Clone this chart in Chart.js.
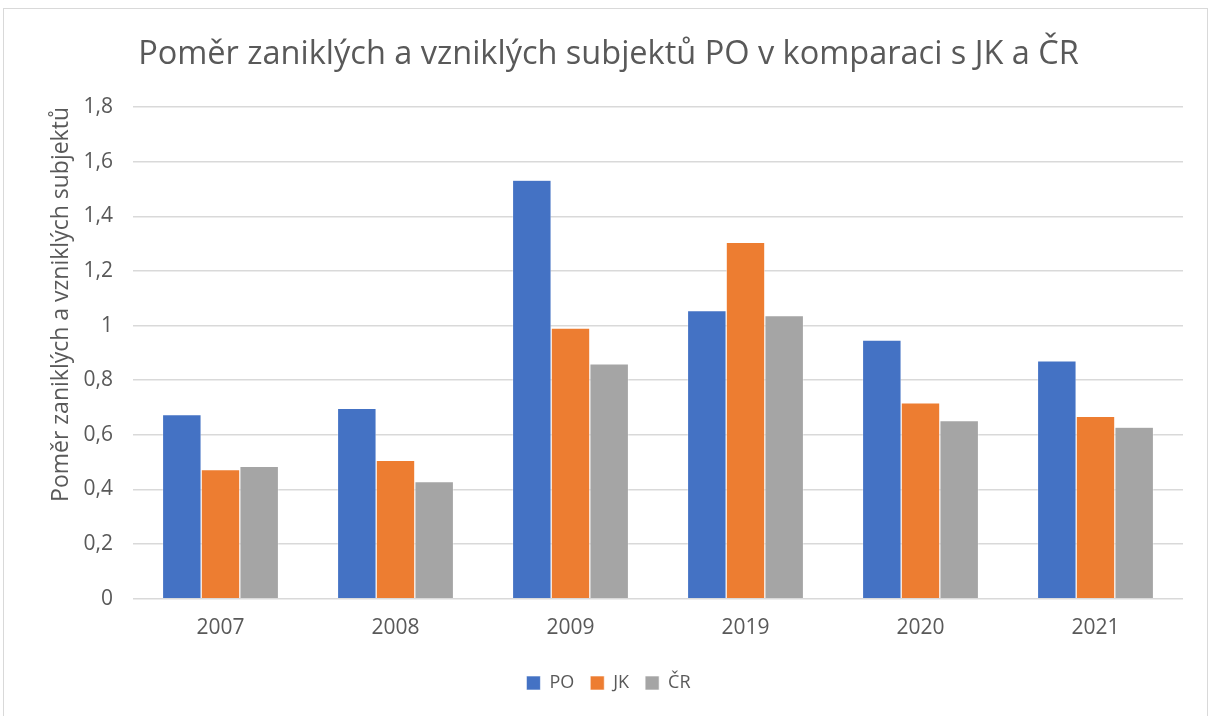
<!DOCTYPE html>
<html>
<head>
<meta charset="utf-8">
<script src="https://cdn.jsdelivr.net/npm/chart.js@4.4.0/dist/chart.umd.min.js"></script>
<style>
  html, body { margin: 0; padding: 0; background: #ffffff; }
  #frame { position: absolute; left: 3px; top: 8px; width: 1205px; height: 720px; border: 1px solid #d9d9d9; box-sizing: border-box; }
  #wrap { position: absolute; left: 0; top: 0; width: 1217px; height: 716px; }
</style>
</head>
<body>
<div id="frame"></div>
<div id="wrap"><canvas id="c" width="1217" height="716"></canvas></div>
<script>
const categories = ['2007', '2008', '2009', '2019', '2020', '2021'];
const seriesNames = ['PO', 'JK', 'ČR'];
const valuesPO = [0.674, 0.697, 1.532, 1.055, 0.947, 0.871];
const valuesJK = [0.473, 0.507, 0.991, 1.304, 0.717, 0.668];
const valuesCR = [0.485, 0.429, 0.860, 1.036, 0.652, 0.628];
const yTickLabels = ['0', '0,2', '0,4', '0,6', '0,8', '1', '1,2', '1,4', '1,6', '1,8'];
const titleText = 'Poměr zaniklých a vzniklých subjektů PO v komparaci s JK a ČR';
const yAxisTitle = 'Poměr zaniklých a vzniklých subjektů';

const colors = ['#4472c4', '#ed7d31', '#a5a5a5'];
const FONT = "'Open Sans', 'Liberation Sans', sans-serif";
const TXT = '#595959';

const ds = [valuesPO, valuesJK, valuesCR].map((vals, i) => ({
  label: seriesNames[i],
  data: vals,
  backgroundColor: colors[i],
  borderColor: '#ffffff',
  borderWidth: 0.6,
  categoryPercentage: 0.663,
  barPercentage: 1.0
}));

new Chart(document.getElementById('c'), {
  type: 'bar',
  data: { labels: categories, datasets: ds },
  options: {
    responsive: false,
    animation: false,
    layout: { padding: { left: 34, right: 34, top: 26, bottom: 14 } },
    plugins: {
      title: {
        display: true,
        text: titleText,
        color: TXT,
        font: { family: FONT, size: 32.5, weight: 'normal' },
        padding: { top: 9, bottom: 33 }
      },
      legend: {
        position: 'bottom',
        labels: {
          color: TXT,
          font: { family: FONT, size: 18 },
          boxWidth: 14,
          boxHeight: 14,
          padding: 16
        }
      },
      tooltip: { enabled: false }
    },
    scales: {
      x: {
        grid: { display: false, drawTicks: false },
        border: { display: false },
        ticks: { color: TXT, font: { family: FONT, size: 21 }, padding: 17 }
      },
      y: {
        min: 0,
        max: 1.8,
        afterBuildTicks: (axis) => {
          axis.ticks = yTickLabels.map((t, i) => ({ value: i * 0.2 }));
        },
        afterFit: (axis) => { axis.width = 99; },
        grid: { color: '#d9d9d9', lineWidth: 1.5, drawTicks: false },
        border: { display: false },
        ticks: {
          color: TXT,
          font: { family: FONT, size: 21 },
          padding: 20,
          callback: (v, i) => yTickLabels[i]
        },
        title: {
          display: true,
          text: yAxisTitle,
          align: 'end',
          color: TXT,
          font: { family: FONT, size: 23 },
          padding: { top: 14, bottom: 6 }
        }
      }
    }
  }
});
</script>
</body>
</html>
